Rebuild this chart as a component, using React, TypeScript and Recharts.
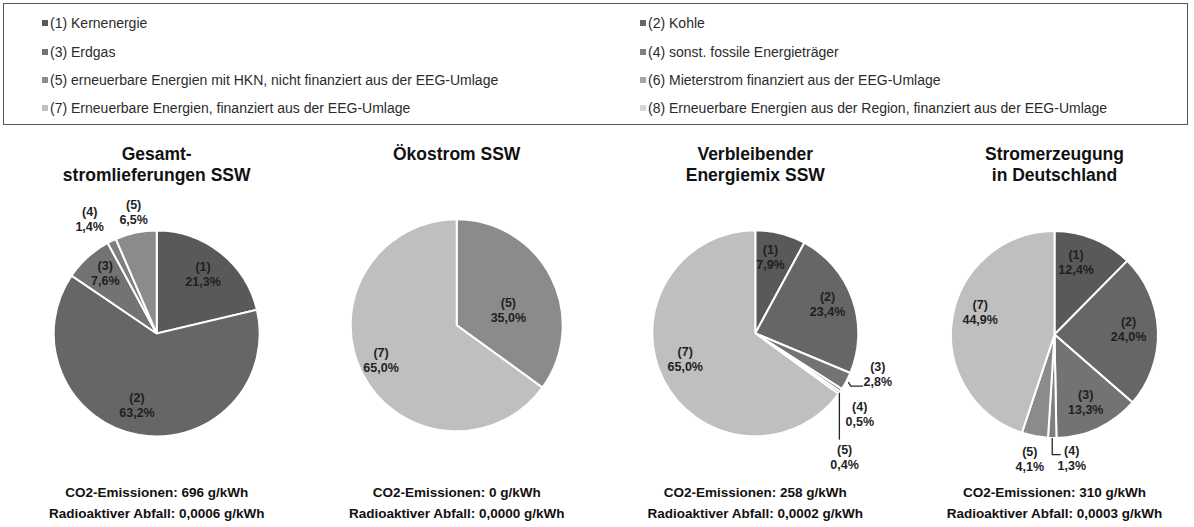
import React from 'react';
import { PieChart, Pie, Cell } from 'recharts';

// legend categories (index 0 = code 1)
const categoryNames = [
  'Kernenergie',
  'Kohle',
  'Erdgas',
  'sonst. fossile Energieträger',
  'erneuerbare Energien mit HKN, nicht finanziert aus der EEG-Umlage',
  'Mieterstrom finanziert aus der EEG-Umlage',
  'Erneuerbare Energien, finanziert aus der EEG-Umlage',
  'Erneuerbare Energien aus der Region, finanziert aus der EEG-Umlage',
];
const categoryColors = ['#595959', '#666666', '#737373', '#7f7f7f', '#8b8b8b', '#a6a6a6', '#bfbfbf', '#d6d6d6'];

// chart titles and footers
const chartTitles = [
  ['Gesamt-', 'stromlieferungen SSW'],
  ['Ökostrom SSW'],
  ['Verbleibender', 'Energiemix SSW'],
  ['Stromerzeugung', 'in Deutschland'],
];
const co2Values = ['696', '0', '258', '310'];
const wasteValues = ['0,0006', '0,0000', '0,0002', '0,0003'];

// slices per chart: category codes + shares in %
const gesamtCodes = [1, 2, 3, 4, 5];
const gesamtValues = [21.3, 63.2, 7.6, 1.4, 6.5];

const oekoCodes = [5, 7];
const oekoValues = [35.0, 65.0];

const restCodes = [1, 2, 3, 4, 5, 7];
const restValues = [7.9, 23.4, 2.8, 0.5, 0.4, 65.0];

const deCodes = [1, 2, 3, 4, 5, 7];
const deValues = [12.4, 24.0, 13.3, 1.3, 4.1, 44.9];

const allCodes = [gesamtCodes, oekoCodes, restCodes, deCodes];
const allValues = [gesamtValues, oekoValues, restValues, deValues];

// layout of the four pies
const PIE_LAYOUT = [
  { cx: 156.7, cy: 333.5, r: 103 },
  { cx: 456.7, cy: 325.3, r: 106 },
  { cx: 755.3, cy: 333.3, r: 103 },
  { cx: 1054.5, cy: 334.5, r: 103.5 },
];

type Leader = 'none' | 'elbowH' | 'down' | 'elbowDown';
interface Placement { rf: number; dx: number; dy: number; leader?: Leader }

// where the data labels go (radius factor from the slice middle + nudges)
const LABEL_PLACEMENT: Placement[][] = [
  [
    { rf: 0.6, dx: 8, dy: -11 },
    { rf: 0.6, dx: -8.5, dy: 11 },
    { rf: 0.6, dx: -10, dy: -14 },
    { rf: 1.2, dx: -13, dy: -3 },
    { rf: 1.2, dx: 2, dy: 0 },
  ],
  [
    { rf: 0.6, dx: -5, dy: 14 },
    { rf: 0.6, dx: -19, dy: 6 },
  ],
  [
    { rf: 0.6, dx: 0, dy: -16 },
    { rf: 0.6, dx: 14, dy: -8 },
    { rf: 1.3, dx: 4, dy: -21, leader: 'elbowH' },
    { rf: 1.3, dx: -7, dy: 7 },
    { rf: 1.3, dx: -20, dy: 47, leader: 'down' },
    { rf: 0.6, dx: -15, dy: -2 },
  ],
  [
    { rf: 0.6, dx: -2, dy: -15 },
    { rf: 0.6, dx: 12, dy: -3 },
    { rf: 0.6, dx: 5, dy: 12 },
    { rf: 1.2, dx: 20, dy: 0, leader: 'elbowDown' },
    { rf: 1.2, dx: -1, dy: 3 },
    { rf: 0.6, dx: -13, dy: -12 },
  ],
];

const FONT = '"Liberation Sans", Arial, sans-serif';
const RAD = Math.PI / 180;

const fmt = (v: number) => v.toFixed(1).replace('.', ',') + '%';

const makeLabel = (chart: number) => (props: any) => {
  const { midAngle, index } = props;
  const lay = PIE_LAYOUT[chart];
  const place = LABEL_PLACEMENT[chart][index];
  const rr = lay.r * place.rf;
  const x = lay.cx + rr * Math.cos(-midAngle * RAD) + place.dx;
  const y = lay.cy + rr * Math.sin(-midAngle * RAD) + place.dy;
  const edge = (f: number) => ({
    x: lay.cx + lay.r * f * Math.cos(-midAngle * RAD),
    y: lay.cy + lay.r * f * Math.sin(-midAngle * RAD),
  });

  let leader: string | null = null;
  if (place.leader === 'elbowH') {
    const p0 = edge(1.02);
    leader = `M${p0.x},${p0.y} L${p0.x + 2.5},${y + 11.5} L${x - 15},${y + 11.5}`;
  } else if (place.leader === 'down') {
    const p0 = edge(1.0);
    leader = `M${p0.x},${p0.y} L${p0.x},${y - 18}`;
  } else if (place.leader === 'elbowDown') {
    const p0 = edge(1.0);
    leader = `M${p0.x},${p0.y} L${p0.x},${y - 4} L${x - 11},${y - 4}`;
  }

  const code = allCodes[chart][index];
  const value = allValues[chart][index];
  return (
    <g key={`lbl-${chart}-${index}`}>
      {leader && <path d={leader} fill="none" stroke="#262626" strokeWidth={1.3} />}
      <text x={x} y={y - 7.5} textAnchor="middle" dominantBaseline="central" fontFamily={FONT} fontSize={12.5} fontWeight="bold" fill="#1f1f1f">
        ({code})
      </text>
      <text x={x} y={y + 7.5} textAnchor="middle" dominantBaseline="central" fontFamily={FONT} fontSize={12.5} fontWeight="bold" fill="#1f1f1f">
        {fmt(value)}
      </text>
    </g>
  );
};

const App: React.FC = () => {
  return (
    <div style={{ position: 'absolute', left: 0, top: 0, width: 1194, height: 527, background: '#fff', fontFamily: FONT, overflow: 'hidden' }}>
      {/* legend box */}
      <div style={{ position: 'absolute', left: 3, top: 3, width: 1183, height: 120, border: '1px solid #555' }} />
      {categoryNames.map((name, i) => {
        const col = i % 2;
        const row = Math.floor(i / 2);
        const left = col === 0 ? 42 : 640;
        const top = [23, 52, 80, 108][row];
        return (
          <div key={name} style={{ position: 'absolute', left, top: top - 9, height: 18, display: 'flex', alignItems: 'center', whiteSpace: 'nowrap' }}>
            <div style={{ width: 6, height: 6, background: categoryColors[i], marginRight: 2 }} />
            <span style={{ fontSize: 14, color: '#2b2b2b', lineHeight: '18px' }}>({i + 1}) {name}</span>
          </div>
        );
      })}

      {/* titles */}
      {chartTitles.map((lines, c) => (
        <div key={`t-${c}`} style={{ position: 'absolute', left: PIE_LAYOUT[c].cx - 150, width: 300, top: 144, textAlign: 'center', fontSize: 17.5, fontWeight: 'bold', lineHeight: '21px', color: '#111' }}>
          {lines.map((l) => <div key={l}>{l}</div>)}
        </div>
      ))}

      {/* footers */}
      {co2Values.map((co2, c) => (
        <div key={`f-${c}`} style={{ position: 'absolute', left: PIE_LAYOUT[c].cx - 150, width: 300, top: 482, textAlign: 'center', fontSize: 13.5, fontWeight: 'bold', lineHeight: '21px', color: '#111' }}>
          <div>CO2-Emissionen: {co2} g/kWh</div>
          <div>Radioaktiver Abfall: {wasteValues[c]} g/kWh</div>
        </div>
      ))}

      <div style={{ position: 'absolute', left: 0, top: 0 }}>
        <PieChart width={1194} height={527} margin={{ top: 0, right: 0, bottom: 0, left: 0 }}>
          {allCodes.map((codes, c) => {
            const data = codes.map((code, i) => ({ name: `(${code}) ${categoryNames[code - 1]}`, code, value: allValues[c][i] }));
            return (
              <Pie
                key={`pie-${c}`}
                data={data}
                dataKey="value"
                nameKey="name"
                cx={PIE_LAYOUT[c].cx}
                cy={PIE_LAYOUT[c].cy}
                outerRadius={PIE_LAYOUT[c].r}
                startAngle={90}
                endAngle={-270}
                stroke="#ffffff"
                strokeWidth={2}
                label={makeLabel(c)}
                labelLine={false}
                isAnimationActive={false}
              >
                {data.map((d) => (
                  <Cell key={`c-${c}-${d.code}`} fill={categoryColors[d.code - 1]} />
                ))}
              </Pie>
            );
          })}
        </PieChart>
      </div>
    </div>
  );
};

export default App;
